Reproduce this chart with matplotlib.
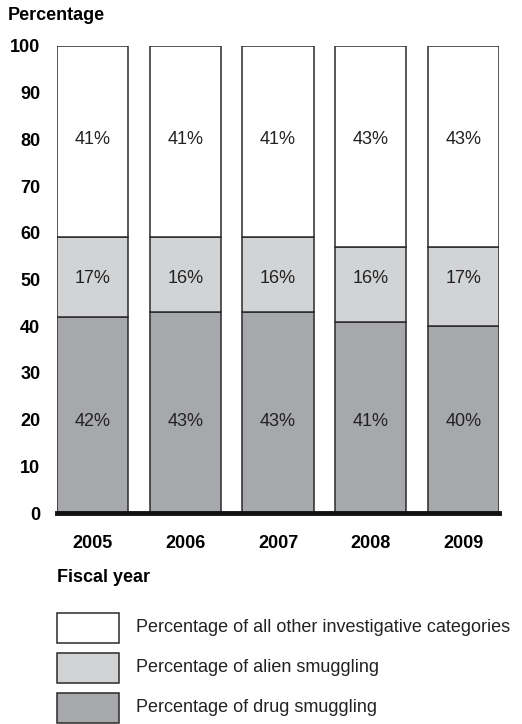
import matplotlib
matplotlib.use("Agg")
import matplotlib.pyplot as plt
from matplotlib.patches import Rectangle

plt.rcParams['font.family'] = ['Liberation Sans', 'DejaVu Sans']

years = ["2005", "2006", "2007", "2008", "2009"]
drug = [42, 43, 43, 41, 40]
alien = [17, 16, 16, 16, 17]
other = [41, 41, 41, 43, 43]
yticks = [0, 10, 20, 30, 40, 50, 60, 70, 80, 90, 100]
legend_labels = ["Percentage of all other investigative categories",
                 "Percentage of alien smuggling",
                 "Percentage of drug smuggling"]

c_drug = "#a7a8ab"
c_alien = "#d2d3d5"
c_other = "#ffffff"
edge = "#2a2a2a"

W, H = 522, 724
fig = plt.figure(figsize=(W / 100, H / 100), dpi=100)
ax = fig.add_axes([57 / W, (H - 513) / H, (499 - 57) / W, (513 - 46) / H])

x = list(range(len(years)))
bw = 0.77
bottoms2 = [d + a for d, a in zip(drug, alien)]
ax.bar(x, drug, bw, color=c_drug, edgecolor=edge, linewidth=1.1, zorder=2)
ax.bar(x, alien, bw, bottom=drug, color=c_alien, edgecolor=edge, linewidth=1.1, zorder=2)
ax.bar(x, other, bw, bottom=bottoms2, color=c_other, edgecolor=edge, linewidth=1.1, zorder=2)

# labels sit at fixed heights within each band, as in the original
y_drug_lab, y_alien_lab, y_other_lab = 19.7, 50.3, 80.0
fs = 13
for i in x:
    ax.text(i, y_drug_lab, f"{drug[i]}%", ha="center", va="center", fontsize=fs, color="#222")
    ax.text(i, y_alien_lab, f"{alien[i]}%", ha="center", va="center", fontsize=fs, color="#222")
    ax.text(i, y_other_lab, f"{other[i]}%", ha="center", va="center", fontsize=fs, color="#222")

ax.set_xlim(-bw / 2, len(years) - 1 + bw / 2)
ax.set_ylim(0, 100)
ax.axhline(0, color="#111", linewidth=3.5, zorder=3, clip_on=False)
for s in ax.spines.values():
    s.set_visible(False)
ax.set_yticks(yticks)
ax.set_yticklabels([str(v) for v in yticks], fontsize=13, fontweight="bold")
ax.set_xticks(x)
ax.set_xticklabels(years, fontsize=13, fontweight="bold")
ax.tick_params(axis="both", length=0)
ax.tick_params(axis="y", pad=12)
ax.tick_params(axis="x", pad=16)

fig.text(8 / W, 1 - 16 / H, "Percentage", fontsize=13, fontweight="bold", va="center", ha="left")
fig.text(57 / W, 1 - 577 / H, "Fiscal year", fontsize=13, fontweight="bold", va="center", ha="left")

leg_colors = [c_other, c_alien, c_drug]
leg_tops = [613, 653, 693]
for lab, col, top in zip(legend_labels, leg_colors, leg_tops):
    fig.add_artist(Rectangle((57 / W, 1 - (top + 30) / H), 62 / W, 30 / H,
                             transform=fig.transFigure, facecolor=col,
                             edgecolor=edge, linewidth=1.1))
    fig.text(136 / W, 1 - (top + 15) / H, lab, fontsize=13, va="center", ha="left", color="#222")

fig.savefig("out.png", dpi=100)
